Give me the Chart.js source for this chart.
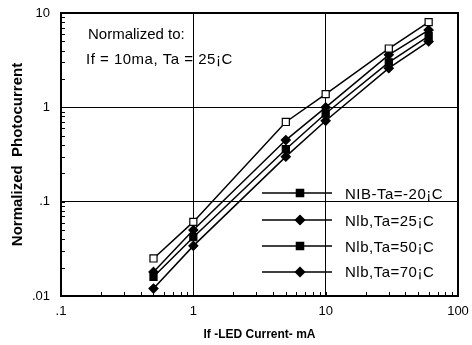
<!DOCTYPE html>
<html>
<head>
<meta charset="utf-8">
<script src="https://cdn.jsdelivr.net/npm/chart.js@4/dist/chart.umd.min.js"></script>
<style>
  html, body { margin: 0; padding: 0; background: #fff; }
  #wrap { width: 472px; height: 345px; }
</style>
</head>
<body>
<div id="wrap"><canvas id="grafico" width="472" height="345"></canvas></div>
<script>
// Datos (If en mA, fotocorriente normalizada)
const corrienteLED = [0.5, 1, 5, 10, 30, 60];
const serieMenos20 = [0.025, 0.061, 0.70, 1.38, 4.2, 8.0];
const serie25 = [0.018, 0.050, 0.45, 1.0, 3.6, 6.6];
const serie50 = [0.016, 0.042, 0.36, 0.86, 3.0, 5.7];
const serie70 = [0.012, 0.034, 0.30, 0.72, 2.6, 5.0];
const etiquetas = ['NIB-Ta=-20¡C', 'Nlb,Ta=25¡C', 'Nlb,Ta=50¡C', 'Nlb,Ta=70¡C'];
const etiquetasX = {0.1: '.1', 1: '1', 10: '10', 100: '100'};
const etiquetasY = {0.01: '.01', 0.1: '.1', 1: '1', 10: '10'};
const notaTexto = ['Normalized to:', 'If = 10ma, Ta = 25¡C'];

const FUENTE = '"Liberation Sans", Arial, sans-serif';

function puntos(valores) {
    return corrienteLED.map((x, i) => ({x: x, y: valores[i]}));
}

function ticksLog(min, max) {
    const lista = [];
    for (let e = Math.round(Math.log10(min)); e < Math.round(Math.log10(max)); e++) {
        for (let m = 1; m < 10; m++) lista.push({value: m * Math.pow(10, e)});
    }
    lista.push({value: max});
    return lista;
}

function esDecada(v) {
    const l = Math.log10(v);
    return Math.abs(l - Math.round(l)) < 1e-6;
}

const estilos = [
    {pointStyle: 'rect', pointRadius: 5, pointBackgroundColor: '#fff'},
    {pointStyle: 'rectRot', pointRadius: 4.5, pointBackgroundColor: '#000'},
    {pointStyle: 'rect', pointRadius: 5, pointBackgroundColor: '#000'},
    {pointStyle: 'rectRot', pointRadius: 4.5, pointBackgroundColor: '#000'}
];
const marcadoresLeyenda = ['rect', 'rectRot', 'rect', 'rectRot'];

// Marcos, marcas menores, nota y leyenda
const decoracion = {
    id: 'decoracion',
    afterDraw(chart) {
        const c = chart.ctx;
        const a = chart.chartArea;
        const sx = chart.scales.x, sy = chart.scales.y;
        c.save();
        c.strokeStyle = '#000';
        c.lineWidth = 1;
        // marcas hacia adentro
        c.beginPath();
        sx.ticks.forEach(t => {
            const px = Math.round(sx.getPixelForValue(t.value)) + 0.5;
            c.moveTo(px, a.bottom);
            c.lineTo(px, a.bottom - 4);
        });
        sy.ticks.forEach(t => {
            const py = Math.round(sy.getPixelForValue(t.value)) + 0.5;
            c.moveTo(a.left, py);
            c.lineTo(a.left + 4, py);
        });
        c.stroke();
        // marco
        c.lineWidth = 2;
        c.strokeRect(a.left, a.top, a.right - a.left, a.bottom - a.top);

        // nota
        c.fillStyle = '#000';
        c.font = '15px ' + FUENTE;
        c.textBaseline = 'middle';
        c.textAlign = 'left';
        c.fillText(notaTexto[0], 88, 35);
        c.letterSpacing = '0.5px';
        c.fillText(notaTexto[1], 86, 60);

        // leyenda
        const lineas = [193, 220, 246, 272];
        const textos = [195, 222, 248, 273];
        lineas.forEach((y, i) => {
            c.lineWidth = 1.5;
            c.beginPath();
            c.moveTo(262, y);
            c.lineTo(332, y);
            c.stroke();
            c.fillStyle = '#000';
            Chart.helpers.drawPoint(c, {pointStyle: marcadoresLeyenda[i], radius: i % 2 ? 4.5 : 5, rotation: 0, borderWidth: 1}, 300, y);
            c.fill();
            c.font = '15px ' + FUENTE;
            c.letterSpacing = '0.5px';
            c.fillText(etiquetas[i], 345, textos[i]);
        });
        c.restore();
    }
};

const ctx = document.getElementById('grafico').getContext('2d');
const grafico = new Chart(ctx, {
    type: 'line',
    data: {
        datasets: [serieMenos20, serie25, serie50, serie70].map((s, i) => Object.assign({
            label: etiquetas[i],
            data: puntos(s),
            borderColor: '#000',
            borderWidth: 1.5,
            pointBorderColor: '#000',
            pointBorderWidth: 1.2,
            tension: 0,
            fill: false
        }, estilos[i]))
    },
    options: {
        responsive: false,
        animation: false,
        layout: {padding: {top: 13, right: 14, left: 0, bottom: 0}},
        plugins: {
            legend: {display: false},
            tooltip: {enabled: false}
        },
        scales: {
            x: {
                type: 'logarithmic',
                min: 0.1,
                max: 100,
                afterBuildTicks: s => { s.ticks = ticksLog(0.1, 100); },
                afterFit: s => { s.height = 49; s.paddingLeft = 0; s.paddingRight = 0; },
                grid: {
                    color: c => esDecada(c.tick.value) ? '#000' : 'rgba(0,0,0,0)',
                    lineWidth: 1,
                    drawTicks: false
                },
                border: {display: false},
                ticks: {
                    autoSkip: false,
                    maxRotation: 0,
                    padding: 8,
                    color: '#000',
                    font: {family: FUENTE, size: 13},
                    callback: v => etiquetasX[v] !== undefined ? etiquetasX[v] : ''
                },
                title: {
                    display: true,
                    text: 'If -LED Current- mA',
                    color: '#000',
                    font: {family: FUENTE, size: 12, weight: 'bold'},
                    padding: {top: 0, bottom: 3}
                }
            },
            y: {
                type: 'logarithmic',
                min: 0.01,
                max: 10,
                afterBuildTicks: s => { s.ticks = ticksLog(0.01, 10); },
                afterFit: s => { s.width = 61; s.paddingTop = 0; s.paddingBottom = 0; },
                grid: {
                    color: c => esDecada(c.tick.value) ? '#000' : 'rgba(0,0,0,0)',
                    lineWidth: 1,
                    drawTicks: false
                },
                border: {display: false},
                ticks: {
                    autoSkip: false,
                    padding: 11,
                    color: '#000',
                    font: {family: FUENTE, size: 13},
                    callback: v => etiquetasY[v] !== undefined ? etiquetasY[v] : ''
                },
                title: {
                    display: true,
                    text: 'Normalized  Photocurrent',
                    color: '#000',
                    font: {family: FUENTE, size: 15, weight: 'bold'},
                    padding: {top: 9, bottom: 0}
                }
            }
        }
    },
    plugins: [decoracion]
});
</script>
</body>
</html>
